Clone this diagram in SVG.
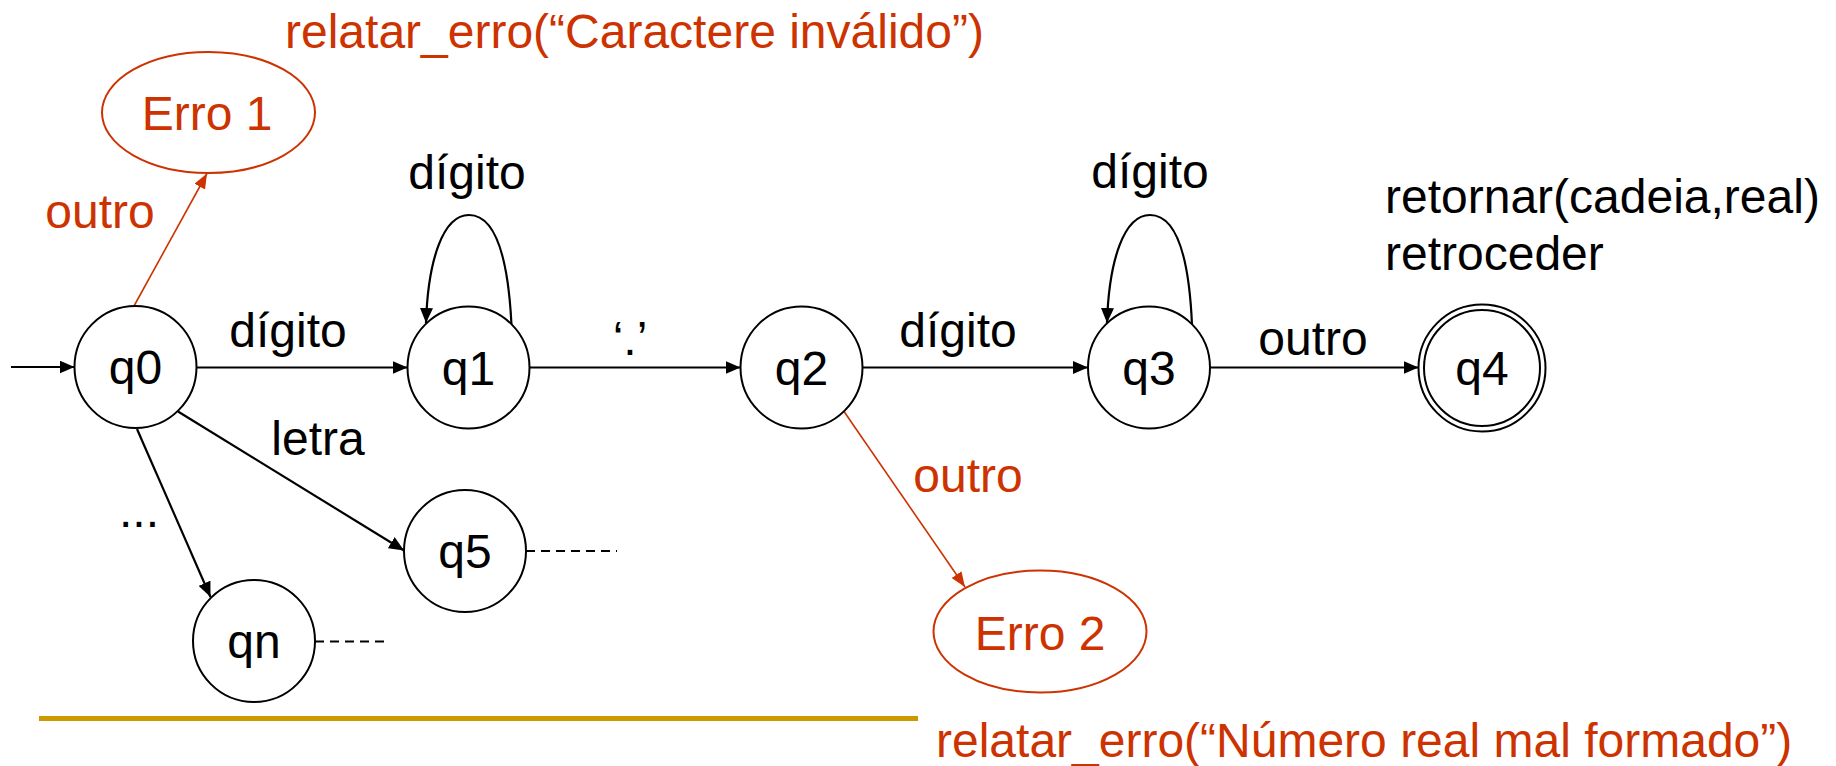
<svg xmlns="http://www.w3.org/2000/svg" width="1836" height="766" viewBox="0 0 1836 766">
  <style>
    text { font-family: "Liberation Sans", Arial, Helvetica, sans-serif; font-size: 48px; }
    .blk { fill: #000000; }
    .red { fill: #CC3300; }
    .mid { text-anchor: middle; }
    .state { fill: #FFFFFF; stroke: #000000; stroke-width: 2; }
    .err { fill: #FFFFFF; stroke: #CC3300; stroke-width: 2; }
    .edge { fill: none; stroke: #000000; stroke-width: 2.2; marker-end: url(#arrow); }
    .edge-red { fill: none; stroke: #CC3300; stroke-width: 1.6; marker-end: url(#arrow-red); }
    .dash { fill: none; stroke: #000000; stroke-width: 1.8; stroke-dasharray: 9 6; }
  </style>
  <defs>
    <marker id="arrow" markerUnits="userSpaceOnUse" markerWidth="15" markerHeight="13" refX="15" refY="6.5" orient="auto">
      <path d="M0,0 L15,6.5 L0,13 z" fill="#000000"/>
    </marker>
    <marker id="arrow-red" markerUnits="userSpaceOnUse" markerWidth="15" markerHeight="12" refX="15" refY="6" orient="auto">
      <path d="M0,0 L15,6 L0,12 z" fill="#CC3300"/>
    </marker>
  </defs>

  <rect width="1836" height="766" fill="#FFFFFF"/>

  <!-- transitions -->
  <g id="connectors">
    <path class="edge" d="M11 367 L74.5 367"/>
    <path class="edge" d="M196.5 367.5 L407.5 367.5"/>
    <path class="edge" d="M529.5 367.5 L740.5 367.5"/>
    <path class="edge" d="M862.5 367.5 L1088 367.5"/>
    <path class="edge" d="M1210 367.5 L1418.5 367.5"/>
    <path class="edge" d="M178 411.5 L404 550.5"/>
    <path class="edge" d="M137 429 L210.5 597"/>
    <!-- self loops on q1 and q3 -->
    <path class="edge" d="M511.5 325 C508 255 495 215 469 215 C443 215 428 260 426 323"/>
    <path class="edge" d="M1192 325 C1189 255 1176 215 1150 215 C1124 215 1109 260 1107 323"/>
    <!-- error transitions -->
    <path class="edge-red" d="M134 306 L207 173.5"/>
    <path class="edge-red" d="M844 411.5 L965 587"/>
    <!-- continuation stubs -->
    <path class="dash" d="M526 551 L617 551"/>
    <path class="dash" d="M315 641.5 L390 641.5"/>
  </g>

  <!-- transition labels -->
  <g id="labels">
    <text class="blk mid" x="288" y="347">dígito</text>
    <text class="blk mid" x="467" y="189">dígito</text>
    <text class="blk mid" x="630" y="355">‘.’</text>
    <text class="blk mid" x="958" y="347">dígito</text>
    <text class="blk mid" x="1150" y="188">dígito</text>
    <text class="blk mid" x="1313" y="355">outro</text>
    <text class="blk mid" x="318" y="455">letra</text>
    <text class="blk mid" x="139" y="527">...</text>
    <text class="red mid" x="100" y="228">outro</text>
    <text class="red mid" x="968" y="492">outro</text>
  </g>

  <g id="q0">
    <circle class="state" cx="135.5" cy="367" r="61"/>
    <text class="blk mid" x="135.5" y="384">q0</text>
  </g>
  <g id="q1">
    <circle class="state" cx="468.5" cy="367.5" r="61"/>
    <text class="blk mid" x="468.5" y="384.5">q1</text>
  </g>
  <g id="q2">
    <circle class="state" cx="801.5" cy="367.5" r="61"/>
    <text class="blk mid" x="801.5" y="384.5">q2</text>
  </g>
  <g id="q3">
    <circle class="state" cx="1149" cy="367.5" r="61"/>
    <text class="blk mid" x="1149" y="384.5">q3</text>
  </g>
  <g id="q4">
    <circle class="state" cx="1482" cy="368" r="63.5"/>
    <circle class="state" cx="1482" cy="368" r="58"/>
    <text class="blk mid" x="1482" y="385">q4</text>
  </g>
  <g id="q5">
    <circle class="state" cx="465" cy="551" r="61"/>
    <text class="blk mid" x="465" y="568">q5</text>
  </g>
  <g id="qn">
    <circle class="state" cx="254" cy="641" r="61"/>
    <text class="blk mid" x="254" y="658">qn</text>
  </g>
  <g id="erro1">
    <ellipse class="err" cx="208.5" cy="112.5" rx="106.5" ry="60.5"/>
    <text class="red mid" x="207" y="130">Erro 1</text>
  </g>
  <g id="erro2">
    <ellipse class="err" cx="1040" cy="631.5" rx="106.5" ry="61"/>
    <text class="red mid" x="1040" y="650">Erro 2</text>
  </g>

  <!-- actions -->
  <g id="actions">
    <text class="red" x="285" y="48">relatar_erro(“Caractere inválido”)</text>
    <text class="blk" x="1385" y="213">retornar(cadeia,real)</text>
    <text class="blk" x="1385" y="270">retroceder</text>
    <text class="red" x="936" y="757">relatar_erro(“Número real mal formado”)</text>
  </g>

  <rect id="rule" x="39" y="716" width="879" height="5" fill="#CC9900"/>
</svg>
